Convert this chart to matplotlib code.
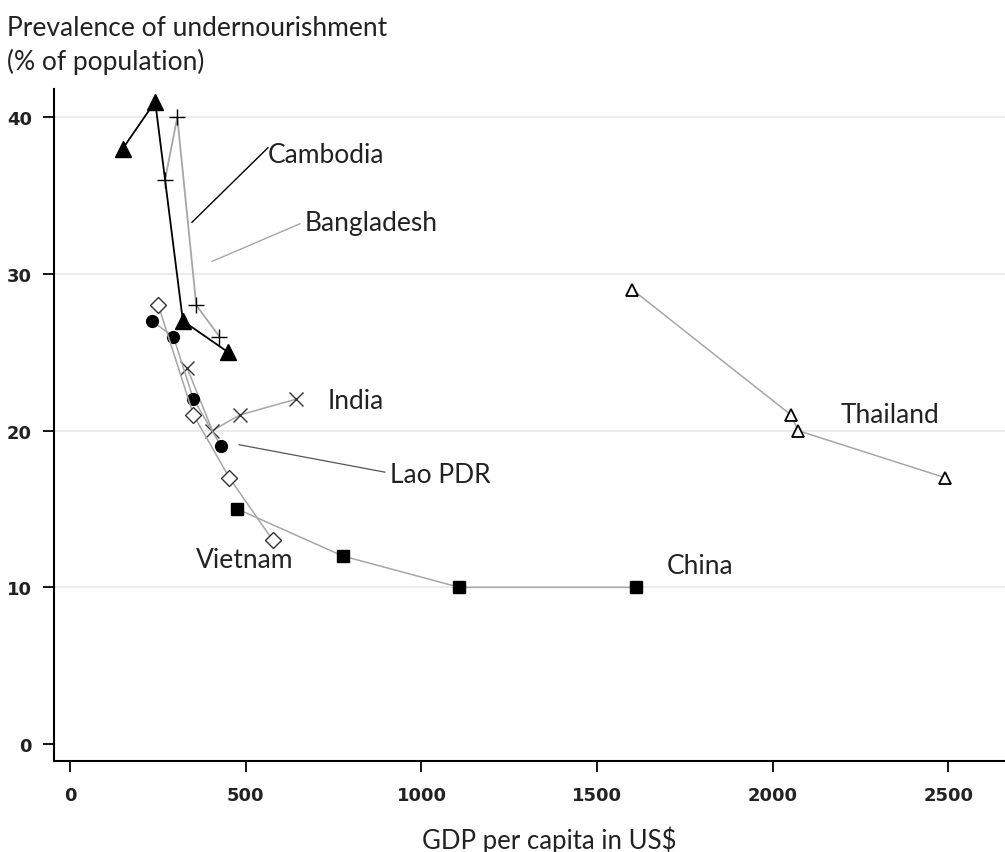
import matplotlib
matplotlib.use('Agg')
import matplotlib.pyplot as plt

# GDP per capita (US$) and undernourishment (%)
cambodia_x = [150, 242, 321, 450]
cambodia_y = [38, 41, 27, 25]
bangladesh_x = [270, 305, 359, 425]
bangladesh_y = [36, 40, 28, 26]
india_x = [333, 405, 483, 642]
india_y = [24, 20, 21, 22]
lao_x = [232, 294, 351, 430]
lao_y = [27, 26, 22, 19]
vietnam_x = [251, 351, 453, 577]
vietnam_y = [28, 21, 17, 13]
china_x = [476, 776, 1108, 1611]
china_y = [15, 12, 10, 10]
thailand_x = [1600, 2052, 2072, 2490]
thailand_y = [29, 21, 20, 17]

x_ticks = [0, 500, 1000, 1500, 2000, 2500]
y_ticks = [0, 10, 20, 30, 40]

plt.rcParams['font.family'] = ['Lato', 'DejaVu Sans']

fig = plt.figure(figsize=(10.05, 8.53), dpi=100)
ax = fig.add_axes([0.0537, 0.1067, 0.9463, 0.7878])

grey = '#a6a6a6'
txt = '#222222'
# grid
for t in y_ticks[1:]:
    ax.axhline(t, color='#e8e8e8', lw=1.2, zorder=0)

ax.plot(cambodia_x, cambodia_y, color='black', lw=1.3, marker='^', ms=11,
        mfc='black', mec='black', zorder=4)
ax.plot(bangladesh_x, bangladesh_y, color=grey, lw=1.3, marker='+', ms=12,
        mec='black', mew=1.0, zorder=3)
ax.plot(india_x, india_y, color=grey, lw=1.1, marker='x', ms=10,
        mec='#333333', mew=1.0, zorder=3)
ax.plot(lao_x, lao_y, color=grey, lw=1.1, marker='o', ms=8.5,
        mfc='black', mec='black', zorder=3)
ax.plot(vietnam_x, vietnam_y, color=grey, lw=1.1, marker='D', ms=8,
        mfc='white', mec='#333333', mew=1.0, zorder=3)
ax.plot(china_x, china_y, color=grey, lw=1.1, marker='s', ms=8.5,
        mfc='black', mec='black', zorder=3)
ax.plot(thailand_x, thailand_y, color=grey, lw=1.1, marker='^', ms=8.5,
        mfc='white', mec='black', mew=1.3, zorder=3)

# labels and leader lines
fs = 19
ax.text(563, 37.6, 'Cambodia', fontsize=fs, va='center', color=txt)
ax.plot([563, 347], [38.05, 33.3], color='black', lw=1.0)
ax.text(667, 33.3, 'Bangladesh', fontsize=fs, va='center', color=txt)
ax.plot([654, 404], [33.2, 30.8], color=grey, lw=1.0)
ax.text(734, 21.9, 'India', fontsize=fs, va='center', color=txt)
ax.text(910, 17.2, 'Lao PDR', fontsize=fs, va='center', color=txt)
ax.plot([896, 481], [17.35, 19.1], color='#555555', lw=0.9)
ax.text(358, 11.8, 'Vietnam', fontsize=fs, va='center', color=txt)
ax.text(1698, 11.4, 'China', fontsize=fs, va='center', color=txt)
ax.text(2194, 21.0, 'Thailand', fontsize=fs, va='center', color=txt)

ax.set_xlim(-46, 2661)
ax.set_ylim(-1.08, 41.8)
ax.set_xticks(x_ticks)
ax.set_yticks(y_ticks)
ax.tick_params(direction='out', length=8, width=1.3, labelsize=13,
               labelcolor=txt)
ax.tick_params(axis='x', pad=10)
ax.tick_params(axis='y', pad=8)
for lab in ax.get_xticklabels() + ax.get_yticklabels():
    lab.set_family('DejaVu Sans')
    lab.set_fontweight('bold')

for s in ['top', 'right']:
    ax.spines[s].set_visible(False)
for s in ['left', 'bottom']:
    ax.spines[s].set_linewidth(1.5)

fig.text(0.007, 1 - 28 / 853, 'Prevalence of undernourishment',
         fontsize=fs, va='center', ha='left', color=txt)
fig.text(0.007, 1 - 62 / 853, '(% of population)',
         fontsize=fs, va='center', ha='left', color=txt)
fig.text(549 / 1005, 1 - 840 / 853, 'GDP per capita in US$', fontsize=18.5,
         ha='center', va='center', color=txt)

fig.savefig('out.png', dpi=100)
